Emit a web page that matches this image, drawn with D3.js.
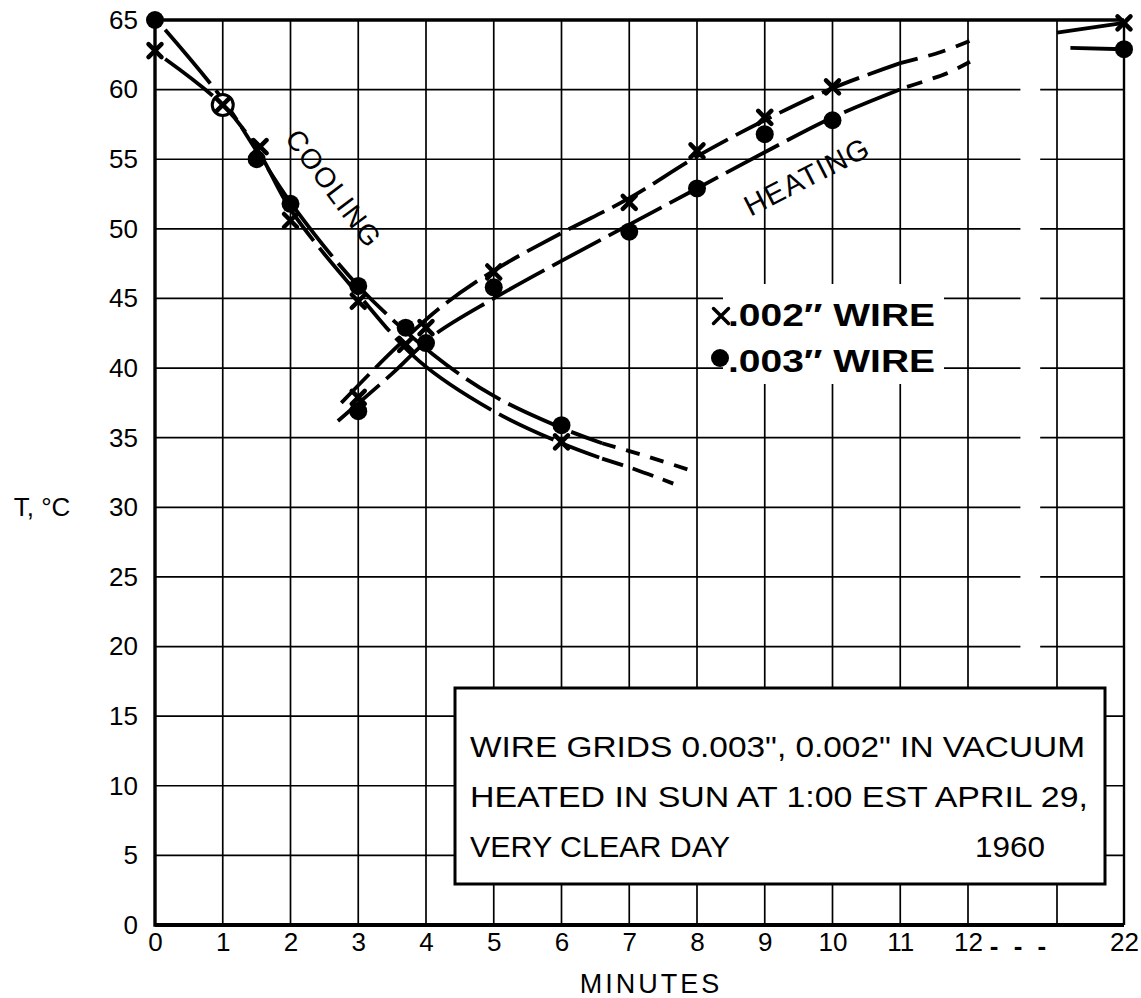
<!DOCTYPE html>
<html><head><meta charset="utf-8">
<script src="https://cdn.jsdelivr.net/npm/d3@7"></script>
<style>
html,body{margin:0;padding:0;background:#fff;}
svg{display:block;}
text{font-family:"Liberation Sans","DejaVu Sans",Arial,sans-serif;fill:#000;}
</style></head>
<body>
<svg id="chart" width="1141" height="998"></svg>
<script>
// ---- data (minutes, °C) ----
const xTicks = [0,1,2,3,4,5,6,7,8,9,10,11,12,22];
const xGrid  = [1,2,3,4,5,6,7,8,9,10,11,12,21,22];
const yTicks = [0,5,10,15,20,25,30,35,40,45,50,55,60,65];
const axisBreak = [17.3, 19.3];

// measured points, 0.002" wire (x) and 0.003" wire (dot)
const coolX   = [[0,62.8],[1,58.9],[1.55,55.9],[2,50.6],[3,44.8],[3.7,41.7],[6,34.7]];
const coolDot = [[0,65],[1,58.9],[1.5,55],[2,51.8],[3,45.9],[3.7,42.9],[6,35.9]];
const heatX   = [[3,37.9],[4,42.9],[5,46.9],[7,51.9],[8,55.6],[9,58],[10,60.2],[22,64.8]];
const heatDot = [[3,36.9],[4,41.8],[5,45.8],[7,49.8],[8,52.9],[9,56.8],[10,57.8],[22,62.9]];

// fitted curves (solid / long dashes) and extrapolations (short dashes)
const coolXFit    = [[0.15,62.2],[1,58.9],[1.5,55.8],[2,51.4],[3,45.3],[3.9,40.5],[5,36.9],[6,34.6],[6.6,33.5]];
const coolXExt    = [[6.6,33.5],[7.1,32.7],[7.65,31.7]];
const coolDotFit  = [[0.15,64.3],[1,59.3],[1.5,55.6],[2,51.9],[3,45.9],[4.1,41],[5,38],[6,35.7],[6.6,34.6]];
const coolDotExt  = [[6.6,34.6],[7.3,33.6],[8,32.5]];
const heatXFit    = [[2.75,37.5],[3.5,41.2],[4.2,44.3],[5,47],[6,49.7],[7,52.2],[8,55.2],[9,57.8],[10,60.1],[11,61.9]];
const heatXExt    = [[11,61.9],[11.6,62.7],[12.15,63.5]];
const heatDotFit  = [[2.7,36.2],[3.5,39.6],[4.1,42.3],[5,45],[6,47.7],[7,50.3],[8,52.9],[9,55.5],[10,58],[11.1,60.2]];
const heatDotExt  = [[11.1,60.2],[11.7,61.2],[12.2,62]];
const heatXLate   = [[21,64.1],[22,64.8]];
const heatDotLate = [[21.2,63],[22,62.9]];

const noteLines = ['WIRE GRIDS 0.003", 0.002" IN VACUUM','HEATED IN SUN AT 1:00 EST APRIL 29,','VERY CLEAR DAY'];
const noteYear = '1960';
const legendLabels = ['.002\u2033 WIRE','.003\u2033 WIRE'];

// ---- scales ----
const x = d3.scaleLinear().domain([0,12,21,22]).range([155,968,1057,1124]);
const y = d3.scaleLinear().domain([0,65]).range([925,20]);
const svg = d3.select('#chart');

// ---- grid ----
const g = svg.append('g');
xGrid.forEach(v=>{
  g.append('line').attr('x1',x(v)).attr('x2',x(v)).attr('y1',y(0)).attr('y2',y(65))
   .attr('stroke','#000').attr('stroke-width', v===22?2.4:1.7);
});
yTicks.forEach(v=>{
  if (v===0 || v===65) return;
  [[0,axisBreak[0]],[axisBreak[1],22]].forEach(([a,b])=>{
    g.append('line').attr('x1',x(a)).attr('x2',x(b)).attr('y1',y(v)).attr('y2',y(v))
     .attr('stroke','#000').attr('stroke-width',1.7);
  });
});
// frame
g.append('line').attr('x1',x(0)).attr('x2',x(22)).attr('y1',y(65)).attr('y2',y(65)).attr('stroke','#000').attr('stroke-width',3.4);
g.append('line').attr('x1',x(0)).attr('x2',x(22)).attr('y1',y(0)).attr('y2',y(0)).attr('stroke','#000').attr('stroke-width',3.8);
g.append('line').attr('x1',x(0)).attr('x2',x(0)).attr('y1',y(0)+1.8).attr('y2',y(65)).attr('stroke','#000').attr('stroke-width',3.4);

// ---- axes labels ----
const FS = 26;
const FF = '"Liberation Sans","DejaVu Sans",sans-serif';
const xa = svg.append('g').attr('transform',`translate(0,${y(0)})`)
  .call(d3.axisBottom(x).tickValues(xTicks).tickSize(0).tickPadding(8).tickFormat(d3.format('d')));
xa.select('.domain').remove();
xa.selectAll('text').attr('font-size',FS).attr('font-family',FF).attr('fill','#000');
xa.append('text').attr('x',x(12)+52).attr('y',30).attr('font-size',FS).attr('fill','#000')
  .attr('font-family',FF).attr('font-weight','bold')
  .attr('text-anchor','middle').attr('letter-spacing',4).text('- - -');

const ya = svg.append('g').attr('transform',`translate(${x(0)},0)`)
  .call(d3.axisLeft(y).tickValues(yTicks).tickSize(0).tickPadding(17).tickFormat(d3.format('d')));
ya.select('.domain').remove();
ya.selectAll('text').attr('font-size',FS).attr('font-family',FF).attr('fill','#000');

svg.append('text').attr('x',42).attr('y',y(30)+9).attr('text-anchor','middle').attr('font-size',26).text('T, °C');
svg.append('text').attr('x',651).attr('y',993).attr('text-anchor','middle').attr('font-size',27).attr('letter-spacing',3).text('MINUTES');

// ---- curves ----
const line = d3.line().x(d=>x(d[0])).y(d=>y(d[1])).curve(d3.curveCatmullRom.alpha(0.5));
const cg = svg.append('g').attr('fill','none').attr('stroke','#000').attr('stroke-linecap','butt');
function curve(data, dash, w){ cg.append('path').attr('d',line(data)).attr('stroke-width',w||3.8).attr('stroke-dasharray',dash); }
curve(coolXFit,'60,9,40,9,120,9');
curve(coolXExt,'22,10');
curve(coolDotFit,'70,9,36,9,40,9,40,9,60,9');
curve(coolDotExt,'14,11');
curve(heatXFit,'40,9,38,9');
curve(heatXExt,'18,11');
curve(heatDotFit,'55,9,60,9');
curve(heatDotExt,'16,11');
curve(heatXLate,null);
curve(heatDotLate,null);

// ---- markers ----
function xMark(sel,px,py,s,w){
  sel.append('path').attr('d',`M${px-s},${py-s}L${px+s},${py+s}M${px-s},${py+s}L${px+s},${py-s}`)
    .attr('stroke','#000').attr('stroke-width',w||4).attr('stroke-linecap','round').attr('fill','none');
}
const mg = svg.append('g');
coolDot.concat(heatDot).forEach(d=>{
  const shared = coolX.some(e=>e[0]===d[0] && Math.abs(e[1]-d[1])<0.01);
  mg.append('circle').attr('cx',x(d[0])).attr('cy',y(d[1])).attr('r',shared?10.5:9)
    .attr('fill',shared?'#fff':'#000').attr('stroke','#000').attr('stroke-width',shared?3:0);
});
coolX.concat(heatX).forEach(d=>xMark(mg,x(d[0]),y(d[1]),6.5,4.5));

// ---- curve labels ----
svg.append('text').attr('transform',`translate(${x(2.61)},${y(52.8)}) rotate(53)`)
  .attr('font-size',28).attr('letter-spacing',1.5).attr('text-anchor','middle').attr('dominant-baseline','middle').text('COOLING');
svg.append('text').attr('transform',`translate(${x(9.64)},${y(53.6)}) rotate(-27)`)
  .attr('font-size',29).attr('letter-spacing',1.5).attr('text-anchor','middle').attr('dominant-baseline','middle').text('HEATING');

// ---- legend ----
const lg = svg.append('g');
lg.append('rect').attr('x',723).attr('y',284).attr('width',221).attr('height',100).attr('fill','#fff');
xMark(lg,721,316,7.5,3.5);
lg.append('circle').attr('cx',720).attr('cy',358).attr('r',9).attr('fill','#000');
legendLabels.forEach((t,i)=>{
  lg.append('text').attr('x',728).attr('y',326+i*46).attr('font-size',32).attr('font-weight','bold')
    .attr('textLength',207).attr('lengthAdjust','spacingAndGlyphs').text(t);
});

// ---- note box ----
const nb = svg.append('g');
nb.append('rect').attr('x',455).attr('y',688).attr('width',650).attr('height',196)
  .attr('fill','#fff').attr('stroke','#000').attr('stroke-width',3);
const lens = [615,618,260];
noteLines.forEach((t,i)=>{
  nb.append('text').attr('x',470).attr('y',757+i*50).attr('font-size',30)
    .attr('textLength',lens[i]).attr('lengthAdjust','spacingAndGlyphs').text(t);
});
nb.append('text').attr('x',1045).attr('y',857).attr('text-anchor','end').attr('font-size',30)
  .attr('textLength',70).attr('lengthAdjust','spacingAndGlyphs').text(noteYear);
</script>
</body></html>
